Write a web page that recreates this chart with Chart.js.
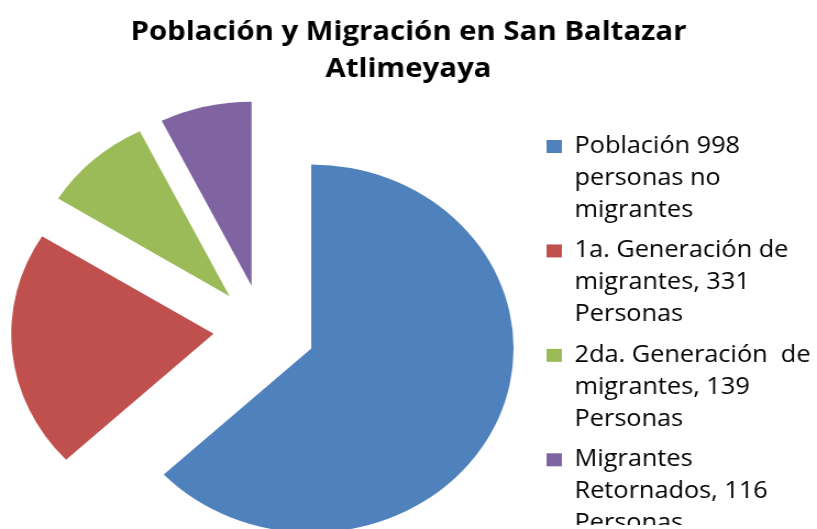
<!DOCTYPE html>
<html>
<head>
<meta charset="utf-8">
<script src="https://cdn.jsdelivr.net/npm/chart.js@4.4.1/dist/chart.umd.min.js"></script>
<style>
  html, body { margin: 0; padding: 0; background: #fff; overflow: hidden; }
  /* the reference is a horizontally stretched picture, so stretch the canvas too */
  #myChart { display: block; transform: scaleX(1.0996); transform-origin: 0 0; }
</style>
</head>
<body>
<canvas id="myChart" width="743" height="529"></canvas>
<script>
var chartTitle = ['Población y Migración en San Baltazar', 'Atlimeyaya'];
var categories = [
    ['Población 998', 'personas no', 'migrantes'],
    ['1a. Generación de', 'migrantes, 331', 'Personas'],
    ['2da. Generación  de', 'migrantes, 139', 'Personas'],
    ['Migrantes', 'Retornados, 116', 'Personas']
];
var personas = [998, 331, 139, 116];

var sliceColors = ['#4F81BD', '#C0504D', '#9BBB59', '#8064A2'];
var sliceExplode = [48, 45, 45, 45];  // px each slice is pulled out

// draws the pie slices pulled out from the centre (Excel style explode)
var explodedPie = {
    id: 'explodedPie',
    beforeInit: function (chart) {
        // fixed legend width, and no wrapping into a second column
        var fit = chart.legend.fit;
        chart.legend.fit = function () {
            this.maxHeight = Math.max(this.maxHeight, 600);
            fit.call(this);
            this.width = 265;
        };
    },
    afterLayout: function (chart) {
        // legend keys sit a bit right of the plot area edge and a bit higher
        var lg = chart.legend;
        lg.left += 10;
        lg.right += 10;
        lg.top -= 4;
        lg.bottom -= 4;
    },
    beforeDatasetDraw: function (chart, args) {
        var ctx = chart.ctx;
        args.meta.data.forEach(function (arc, i) {
            var p = arc.getProps(['x', 'y', 'startAngle', 'endAngle', 'outerRadius'], true);
            var mid = (p.startAngle + p.endAngle) / 2;
            var cx = p.x + Math.cos(mid) * sliceExplode[i];
            var cy = p.y + Math.sin(mid) * sliceExplode[i];
            ctx.save();
            ctx.beginPath();
            ctx.moveTo(cx, cy);
            ctx.arc(cx, cy, p.outerRadius, p.startAngle, p.endAngle);
            ctx.closePath();
            ctx.fillStyle = arc.options.backgroundColor;
            ctx.fill();
            ctx.restore();
        });
        return false;
    }
};

var ctx = document.getElementById('myChart').getContext('2d');
var myChart = new Chart(ctx, {
    type: 'pie',
    data: {
        labels: categories,
        datasets: [{
            data: personas,
            backgroundColor: sliceColors,
            borderWidth: 0
        }]
    },
    options: {
        responsive: false,
        devicePixelRatio: 1,
        animation: false,
        radius: 184,
        layout: { padding: 0 },
        plugins: {
            title: {
                display: true,
                text: chartTitle,
                color: '#000',
                font: { family: 'Open Sans', size: 26.7, weight: 'bold', lineHeight: 1.386 },
                padding: { top: 14, bottom: 42 }
            },
            legend: {
                position: 'right',
                align: 'start',
                fullSize: false,
                labels: {
                    color: '#000',
                    boxWidth: 14,
                    boxHeight: 13,
                    padding: 9,
                    font: { family: 'Open Sans', size: 23, lineHeight: 1.383 }
                }
            },
            tooltip: { enabled: false }
        }
    },
    plugins: [explodedPie]
});
</script>
</body>
</html>
